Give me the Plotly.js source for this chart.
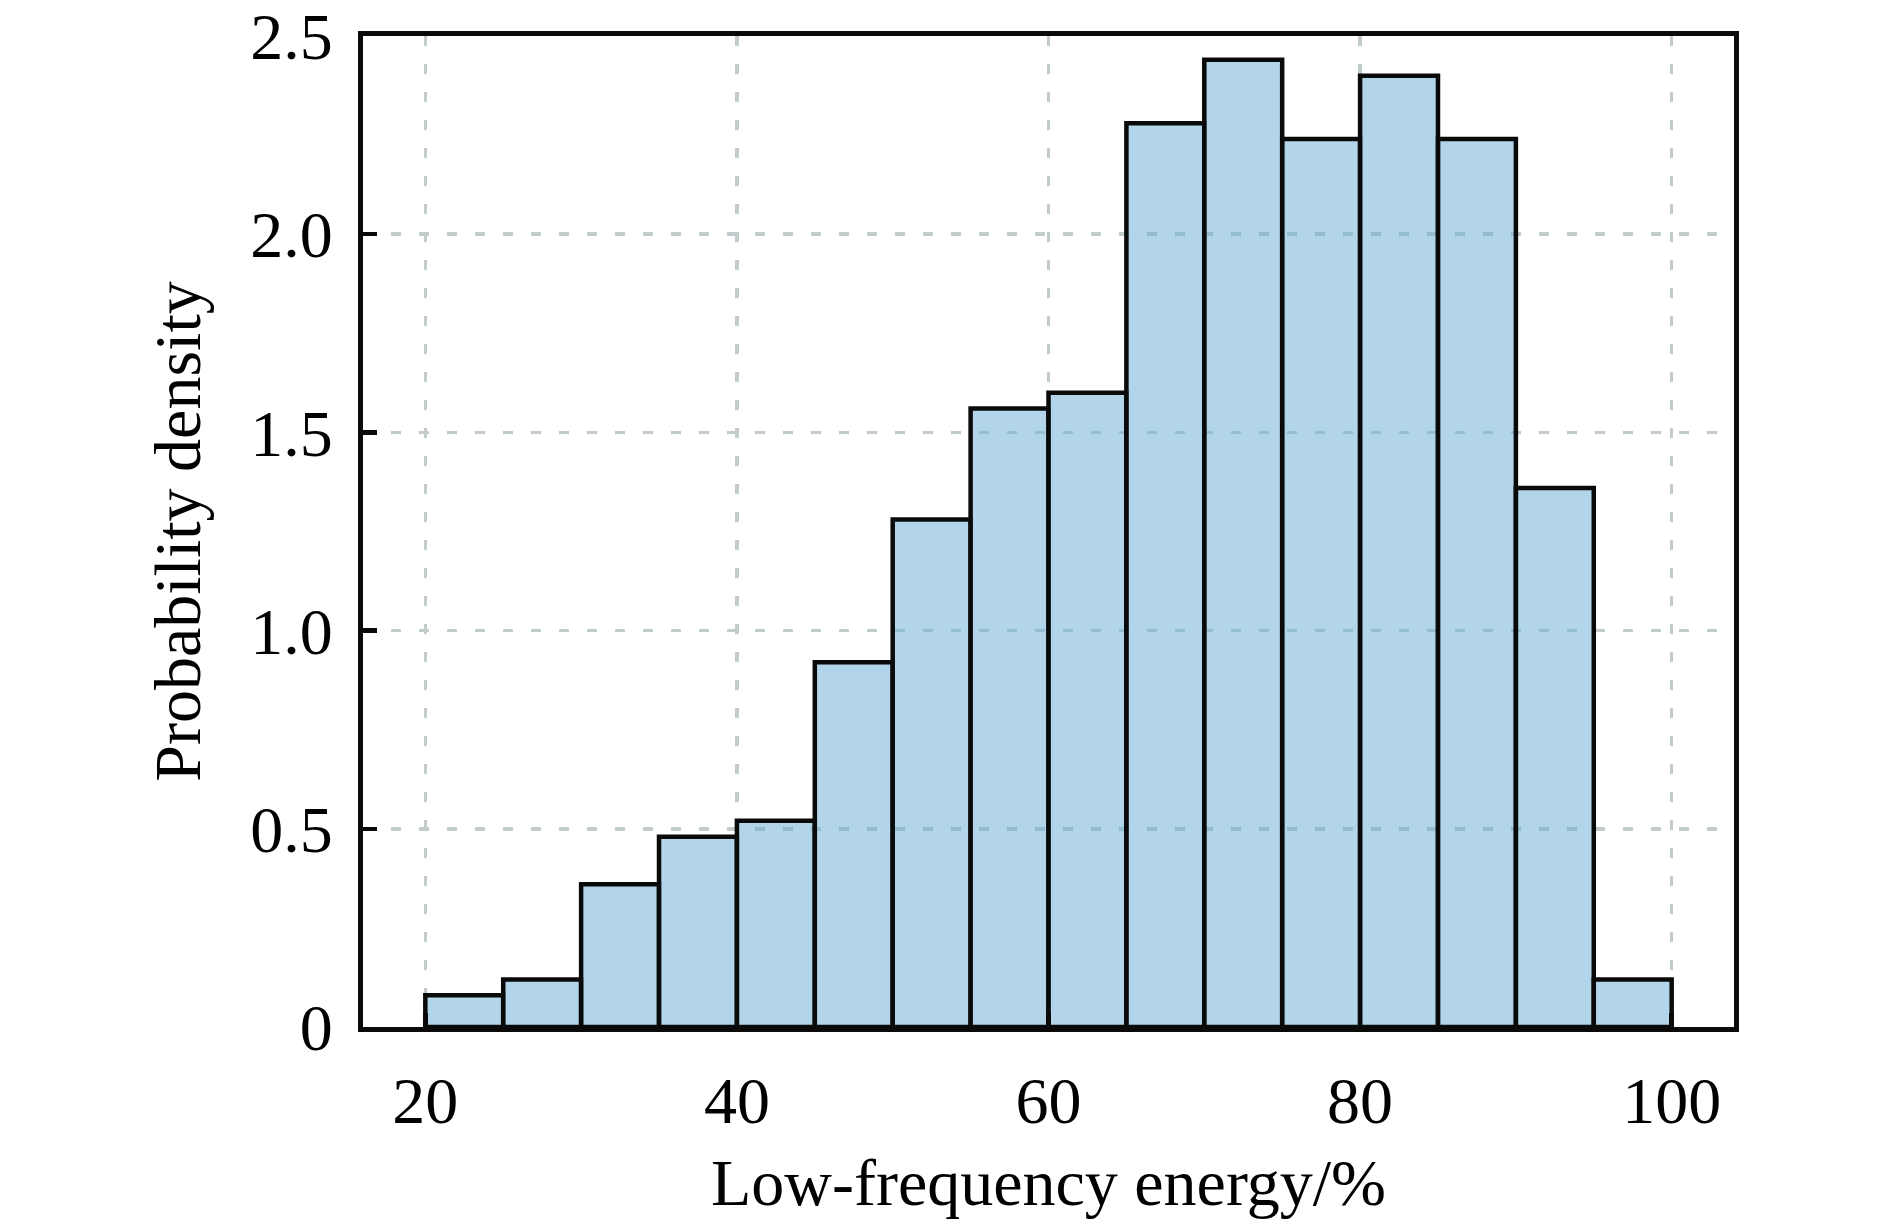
<!DOCTYPE html>
<html>
<head>
<meta charset="utf-8">
<script src="https://cdn.plot.ly/plotly-3.0.1.min.js"></script>
<style>html,body{margin:0;padding:0;background:#fff;}#chart{width:1890px;height:1226px;}</style>
</head>
<body>
<div id="chart"></div>
<script>
// Histogram bins (left edges, %) and probability density values
const binStarts = [20, 25, 30, 35, 40, 45, 50, 55, 60, 65, 70, 75, 80, 85, 90, 95];
const binWidth = 5;
const density = [0.08, 0.12, 0.36, 0.48, 0.52, 0.92, 1.28, 1.56, 1.60, 2.28, 2.44, 2.24, 2.40, 2.24, 1.36, 0.12];
const xTickVals = [20, 40, 60, 80, 100];
const yTickVals = [0, 0.5, 1.0, 1.5, 2.0, 2.5];
const yTickText = ['0', '0.5', '1.0', '1.5', '2.0', '2.5'];
const xTitle = 'Low-frequency energy/%';
const yTitle = 'Probability density';

const font = 'Liberation Serif, Times New Roman, serif';

const trace = {
  type: 'bar',
  x: binStarts,
  y: density,
  width: binStarts.map(() => binWidth),
  offset: 0,
  marker: {color: 'rgba(107,174,214,0.52)', line: {color: '#0a0a0a', width: 4.5}},
  hoverinfo: 'x+y'
};

const layout = {
  width: 1890, height: 1226,
  margin: {l: 363, r: 156, t: 36, b: 199},
  paper_bgcolor: '#fff', plot_bgcolor: '#fff',
  showlegend: false,
  bargap: 0,
  font: {family: font, size: 66, color: '#000'},
  xaxis: {
    range: [16, 104],
    tickvals: xTickVals,
    ticktext: xTickVals.map(String),
    ticks: 'inside', ticklen: 14, tickwidth: 4.5, tickcolor: '#0a0a0a',
    showline: true, linecolor: '#0a0a0a', linewidth: 5, mirror: true,
    showgrid: true, gridcolor: '#c2cccc', gridwidth: 3.5, griddash: '10px,18px',
    zeroline: false,
    tickfont: {family: font, size: 66, color: '#000'},
    ticklabelstandoff: 12,
    ticklabeloverflow: 'allow',
    title: {text: xTitle, font: {family: font, size: 66, color: '#000'}, standoff: 24}
  },
  yaxis: {
    range: [0, 2.5],
    tickvals: yTickVals,
    ticktext: yTickText,
    ticks: 'inside', ticklen: 14, tickwidth: 4.5, tickcolor: '#0a0a0a',
    showline: true, linecolor: '#0a0a0a', linewidth: 5, mirror: true,
    showgrid: true, gridcolor: '#c2cccc', gridwidth: 3.5, griddash: '10px,18px',
    zeroline: false,
    tickfont: {family: font, size: 66, color: '#000'},
    ticklabelstandoff: 12,
    ticklabeloverflow: 'allow',
    title: {text: yTitle, font: {family: font, size: 66, color: '#000'}, standoff: 30}
  }
};

Plotly.newPlot('chart', [trace], layout, {displayModeBar: false, staticPlot: true});
</script>
</body>
</html>
